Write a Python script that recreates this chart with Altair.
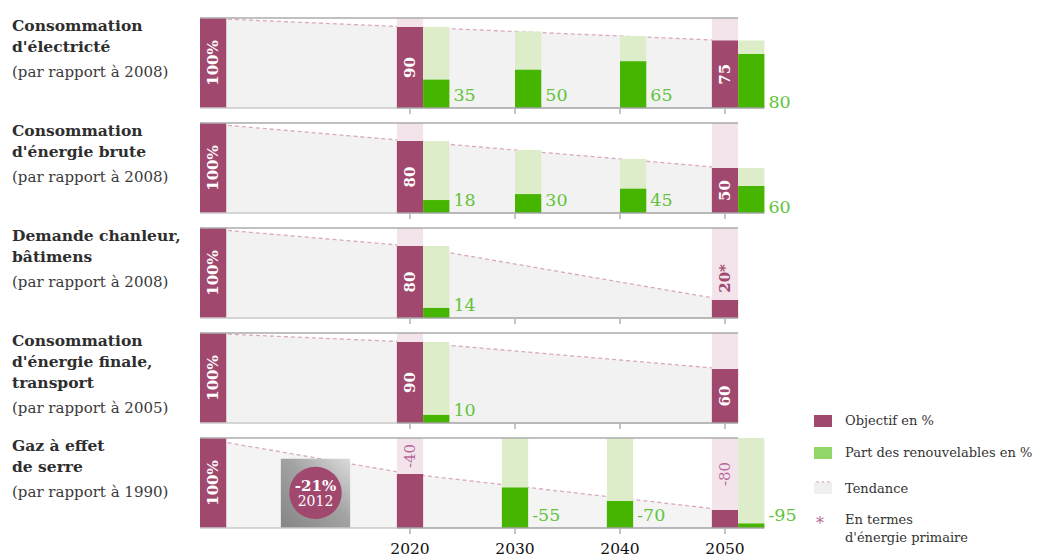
import altair as alt
import pandas as pd

# ------------------------------------------------------------------ data
titles = [
    ["Consommation", "d'électricté"],
    ["Consommation", "d'énergie brute"],
    ["Demande chanleur,", "bâtimens"],
    ["Consommation", "d'énergie finale,", "transport"],
    ["Gaz à effet", "de serre"],
]
refs = [
    "(par rapport à 2008)",
    "(par rapport à 2008)",
    "(par rapport à 2008)",
    "(par rapport à 2005)",
    "(par rapport à 1990)",
]
base_label = "100%"
obj_years = [2020, 2050]
obj_values = [[90, 75], [80, 50], [80, 20], [90, 60], [-40, -80]]
obj_labels = [["90", "75"], ["80", "50"], ["80", "20*"], ["90", "60"], ["-40", "-80"]]
relative = [False, False, False, False, True]   # GHG panel given as change vs base

ren_years = [[2020, 2030, 2040, 2050], [2020, 2030, 2040, 2050], [2020], [2020], [2030, 2040, 2050]]
ren_values = [[35, 50, 65, 80], [18, 30, 45, 60], [14], [10], [-55, -70, -95]]
ren_levels = [[90, 85, 80, 75], [80, 70, 60, 50], [80], [90], [100, 100, 100]]

trend_years = [2000, 2020, 2050]
trend_values = [[100, 90, 75], [100, 80, 50], [100, 80, 20], [100, 90, 60], [100, 60, 20]]

axis_years = [2020, 2030, 2040, 2050]
axis_labels = ["2020", "2030", "2040", "2050"]
badge_value = "-21%"
badge_year = "2012"
badge_level = 79

legend_labels = ["Objectif en %", "Part des renouvelables en %", "Tendance",
                 "En termes", "d'énergie primaire"]

# ------------------------------------------------------------------ style
FONT = "DejaVu Serif"
OBJ = "#a0486e"
PINKBG = "#f3e4ec"
PINKTXT = "#b8679a"
LGREEN = "#deedc9"
GREEN = "#45b500"
GTXT = "#62c43a"
GRAYAREA = "#f2f2f2"
TRENDLINE = "#dba9bf"
LEG_GREEN = "#90d668"

BW = 2.5
XDOM = [2000, 2054]
PW, PH = 567, 90
ren_centered = [False, False, False, False, True]
BADGE_X = 2011


def one(**cols):
    return pd.DataFrame({k: [v] for k, v in cols.items()})


def txt(text, x, y, size=14, weight="normal", color="#333", align="left", baseline="middle"):
    return alt.Chart(one(t=text)).mark_text(
        font=FONT, fontSize=size, fontWeight=weight, color=color,
        align=align, baseline=baseline
    ).encode(x=alt.value(x), y=alt.value(y), text="t:N")


def panel(i):
    rel = relative[i]
    last = i == 4
    xs = alt.Scale(domain=XDOM, nice=False, zero=False)
    ys = alt.Scale(domain=[0, 100], nice=False, zero=False)

    def X(f):
        return alt.X(f, type="quantitative", scale=xs, axis=None)

    def Y(f):
        return alt.Y(f, type="quantitative", scale=ys, axis=None)

    layers = []
    tr = pd.DataFrame({"year": trend_years, "v": trend_values[i]})
    tr["z"] = 0
    layers.append(alt.Chart(tr).mark_area(color=GRAYAREA if not last else "#f4f4f4").encode(
        x=X("year"), y=Y("v"), y2="z"))
    layers.append(alt.Chart(tr).mark_line(color=TRENDLINE, strokeDash=[4, 3], strokeWidth=1.3).encode(
        x=X("year"), y=Y("v")))

    # badge (GHG panel)
    if last:
        bd = one(x0=BADGE_X - 3.3, x1=BADGE_X + 3.3, h=badge_level - 2, z=0,
                 cx=BADGE_X, cy=39, t1=badge_value, t2=badge_year)
        grad = alt.Gradient(gradient="linear", x1=0, y1=1, x2=1, y2=0, stops=[
            alt.GradientStop(color="#858585", offset=0),
            alt.GradientStop(color="#a3a3a3", offset=0.55),
            alt.GradientStop(color="#dcdcdc", offset=1)])
        layers.append(alt.Chart(bd).mark_rect(color=grad).encode(
            x=X("x0"), x2="x1", y=Y("h"), y2="z"))
        layers.append(alt.Chart(bd).mark_point(shape="circle", filled=True, size=2750,
                                               color=OBJ, opacity=1).encode(
            x=X("cx"), y=Y("cy")))
        layers.append(alt.Chart(bd).mark_text(font=FONT, fontSize=15,
                                              fontWeight="bold", color="white", dy=-7).encode(
            x=X("cx"), y=Y("cy"), text="t1:N"))
        layers.append(alt.Chart(bd).mark_text(font=FONT, fontSize=14,
                                              color="white", dy=9).encode(
            x=X("cx"), y=Y("cy"), text="t2:N"))

    # objectives
    heights = [100 + v if rel else v for v in obj_values[i]]
    od = pd.DataFrame({"year": obj_years, "h": heights, "lab": obj_labels[i]})
    od["x0"] = od.year - BW / 2
    od["x1"] = od.year + BW / 2
    od["mid"] = od.h / 2
    od["upper"] = (od.h + 100) / 2
    od["above"] = od.h + 8
    od["z"] = 0
    od["full"] = 100
    layers.append(alt.Chart(od).mark_rect(color=PINKBG).encode(
        x=X("x0"), x2="x1", y=Y("full"), y2="z"))

    base = one(x0=XDOM[0], x1=XDOM[0] + BW, h=100, lab=base_label, xm=XDOM[0] + BW / 2, mid=50, z=0)
    layers.append(alt.Chart(base).mark_rect(color=OBJ).encode(
        x=X("x0"), x2="x1", y=Y("h"), y2="z"))
    layers.append(alt.Chart(od).mark_rect(color=OBJ).encode(
        x=X("x0"), x2="x1", y=Y("h"), y2="z"))

    inside_style = dict(angle=270, font=FONT, fontSize=15, fontWeight="bold", color="white",
                        align="center", baseline="middle")
    layers.append(alt.Chart(base).mark_text(**inside_style).encode(
        x=X("xm"), y=Y("mid"), text="lab:N"))
    if not rel:
        ins = od[od.h >= 40].reset_index(drop=True)
        outs = od[od.h < 40].reset_index(drop=True)
        if len(ins):
            layers.append(alt.Chart(ins).mark_text(**inside_style).encode(
                x=X("year"), y=Y("mid"), text="lab:N"))
        if len(outs):
            layers.append(alt.Chart(outs).mark_text(
                angle=270, font=FONT, fontSize=15, fontWeight="bold", color=OBJ,
                align="left", baseline="middle").encode(
                x=X("year"), y=Y("above"), text="lab:N"))
    else:
        layers.append(alt.Chart(od).mark_text(
            angle=270, font=FONT, fontSize=15, color=PINKTXT,
            align="center", baseline="middle").encode(
            x=X("year"), y=Y("upper"), text="lab:N"))

    # renewables
    ry = ren_years[i]
    vals = ren_values[i]
    lv = ren_levels[i]
    dark = [100 + v if rel else l * v / 100 for v, l in zip(vals, lv)]
    x0 = []
    for y in ry:
        if y in obj_years:
            x0.append(y + BW / 2)
        elif ren_centered[i]:
            x0.append(y - BW / 2)
        else:
            x0.append(y)
    rd = pd.DataFrame({"year": ry, "lvl": lv, "dark": dark, "x0": x0,
                       "lab": [str(v) for v in vals]})
    rd["x1"] = rd.x0 + BW
    rd["z"] = 0
    low = [(y == 2050) and not rel for y in ry]
    layers.append(alt.Chart(rd).mark_rect(color=LGREEN).encode(
        x=X("x0"), x2="x1", y=Y("lvl"), y2="z"))
    layers.append(alt.Chart(rd).mark_rect(color=GREEN).encode(
        x=X("x0"), x2="x1", y=Y("dark"), y2="z"))
    gstyle = dict(font=FONT, fontSize=17.5, color=GTXT, align="left", baseline="alphabetic", dx=4)
    hi = rd[[not l for l in low]].reset_index(drop=True)
    lo = rd[low].reset_index(drop=True)
    if len(hi):
        layers.append(alt.Chart(hi).mark_text(dy=-7, **gstyle).encode(
            x=X("x1"), y=Y("z"), text="lab:N"))
    if len(lo):
        layers.append(alt.Chart(lo).mark_text(dy=0, **gstyle).encode(
            x=X("x1"), y=Y("z"), text="lab:N"))

    # frame lines
    end = max([obj_years[-1] + BW / 2] + list(rd.x1))
    top = one(x0=XDOM[0], x1=obj_years[-1] + BW / 2, y=100)
    layers.append(alt.Chart(top).mark_rule(color="#ababab", strokeWidth=1.5).encode(
        x=X("x0"), x2="x1", y=Y("y")))
    b1 = one(x0=XDOM[0], x1=obj_years[0] - BW / 2, y=0)
    b2 = one(x0=obj_years[0] - BW / 2, x1=end, y=0)
    layers.append(alt.Chart(b1).mark_rule(color="#c9c9c9", strokeWidth=1.5).encode(
        x=X("x0"), x2="x1", y=Y("y")))
    layers.append(alt.Chart(b2).mark_rule(color="#a3a3a3", strokeWidth=1.5).encode(
        x=X("x0"), x2="x1", y=Y("y")))

    # decade ticks (and year labels under the last panel)
    ticks = pd.DataFrame({"year": axis_years, "lab": axis_labels})
    layers.append(alt.Chart(ticks).mark_rule(color="#8a8a8a", strokeWidth=1).encode(
        x=X("year"), y=alt.value(PH + 1), y2=alt.value(PH + 6)))
    if last:
        layers.append(alt.Chart(ticks).mark_text(
            font=FONT, fontSize=15.5, color="#111", align="center", baseline="middle").encode(
            x=X("year"), y=alt.value(PH + 21), text="lab:N"))

    # left-hand titles
    lx = -188
    for k, line in enumerate(titles[i]):
        layers.append(txt(line, lx, 8 + 21 * k, size=15.5, weight="bold", color="#2e2e2e"))
    layers.append(txt(refs[i], lx, 8 + 21 * (len(titles[i]) - 1) + 25, size=15, color="#3a3a3a"))

    # legend (in last panel)
    if last:
        lgx, tx = 614, 645
        lsz = 13
        layers.append(alt.Chart(one(a=0)).mark_rect(color=OBJ).encode(
            x=alt.value(lgx), x2=alt.value(lgx + 18), y=alt.value(-23), y2=alt.value(-11)))
        layers.append(txt(legend_labels[0], tx, -17, size=lsz))
        layers.append(alt.Chart(one(a=0)).mark_rect(color=LEG_GREEN).encode(
            x=alt.value(lgx), x2=alt.value(lgx + 18), y=alt.value(9), y2=alt.value(21)))
        layers.append(txt(legend_labels[1], tx, 15, size=lsz))
        layers.append(alt.Chart(one(a=0)).mark_rect(color="#efefef").encode(
            x=alt.value(lgx), x2=alt.value(lgx + 18), y=alt.value(44), y2=alt.value(56)))
        layers.append(txt("• • •", lgx + 9, 44, size=6, color="#d9a0b8", align="center"))
        layers.append(txt(legend_labels[2], tx, 51, size=lsz))
        layers.append(txt("*", lgx + 6, 86, size=16, color=PINKTXT, align="center"))
        layers.append(txt(legend_labels[3], tx, 82, size=lsz))
        layers.append(txt(legend_labels[4], tx, 100, size=lsz))

    return alt.layer(*layers).properties(width=PW, height=PH)


chart = alt.vconcat(*[panel(i) for i in range(5)], spacing=15, bounds="flush").properties(
    padding={"left": 4, "top": 7, "right": 0, "bottom": 0}
).configure_view(strokeWidth=0)

chart.save("out.html", embed_options={"renderer": "svg", "actions": False})
